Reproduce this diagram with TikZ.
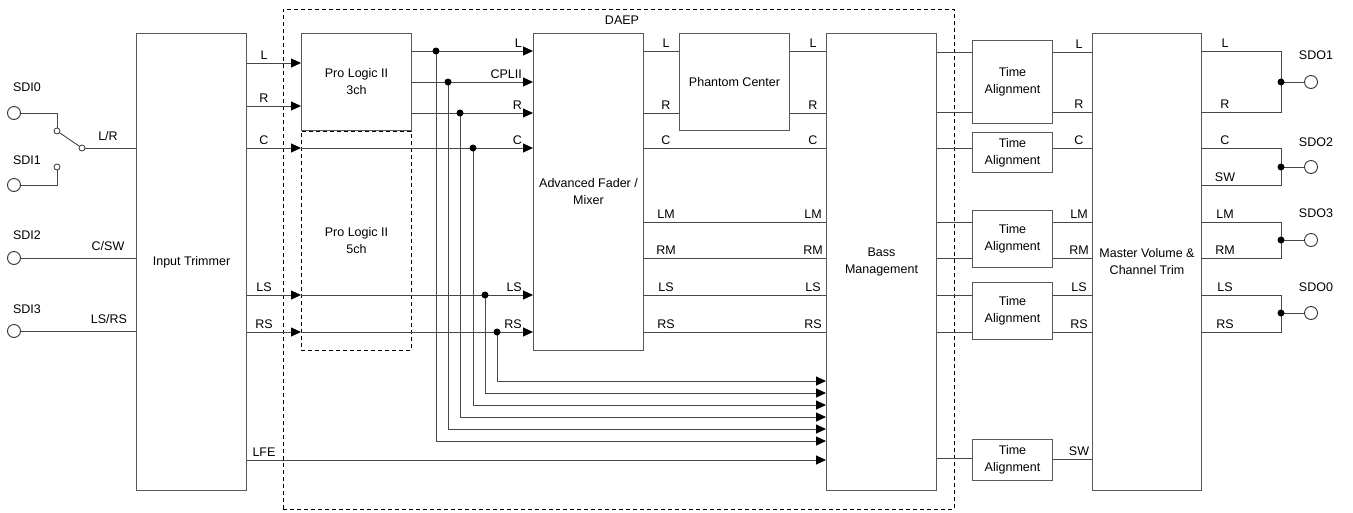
\documentclass[tikz,border=0pt]{standalone}
\usepackage{fontspec}
\setmainfont{Liberation Sans}
\usetikzlibrary{arrows.meta,calc}
\newcommand\dfont{\fontsize{12.5}{17}\selectfont}
\begin{document}
\begin{tikzpicture}[x=1pt,y=-1pt,
  box/.style={draw=black!65, line width=1pt, fill=white, inner sep=2pt, align=center, font=\dfont, anchor=north west},
  dbox/.style={draw=black, line width=0.9pt, dash pattern=on 4pt off 3pt, inner sep=2pt, align=center, font=\dfont, anchor=north west},
  wire/.style={draw=black!72, line width=0.9pt},
  arr/.style={wire, -{Triangle[length=10pt,width=9pt,color=black]}},
  dot/.style={circle, fill=black, inner sep=0pt, minimum size=7pt},
  port/.style={circle, draw=black!80, line width=0.9pt, fill=white, inner sep=0pt, minimum size=13pt},
  swc/.style={circle, draw=black!80, line width=0.8pt, fill=white, inner sep=0pt, minimum size=6pt},
  lab/.style={font=\dfont, inner sep=0pt, anchor=base},
  labr/.style={font=\dfont, inner sep=0pt, anchor=base east}]
\useasboundingbox (0,0) rectangle (1353,512);

% DAEP frame
\node[dbox, minimum width=671pt, minimum height=500pt] (daep) at (283,9) {};
\node[lab] (daeplbl) at (622,24.6) {DAEP};

% blocks
\node[box, minimum width=110pt, minimum height=457pt] (trim) at (136,33) {Input Trimmer};
\node[dbox, minimum width=110pt, minimum height=219pt] (pl5) at (301,131) {Pro Logic II\\5ch};
\node[box, minimum width=110pt, minimum height=97pt] (pl3) at (301,33) {Pro Logic II\\3ch};
\node[box, minimum width=110pt, minimum height=317pt] (fader) at (533,33) {Advanced Fader /\\Mixer};
\node[box, minimum width=110pt, minimum height=97pt] (phantom) at (679,33) {Phantom Center};
\node[box, minimum width=110pt, minimum height=457pt] (bass) at (826,33) {Bass\\Management};
\node[box, minimum width=80pt, minimum height=83pt] (ta1) at (972,40) {Time\\Alignment};
\node[box, minimum width=80pt, minimum height=40pt] (ta2) at (972,132) {Time\\Alignment};
\node[box, minimum width=80pt, minimum height=57pt] (ta3) at (972,210) {Time\\Alignment};
\node[box, minimum width=80pt, minimum height=57pt] (ta4) at (972,282) {Time\\Alignment};
\node[box, minimum width=80pt, minimum height=41pt] (ta5) at (972,439) {Time\\Alignment};
\node[box, minimum width=109pt, minimum height=457pt] (master) at (1092,33) {Master Volume \&\\Channel Trim};

% inputs
\node[port] (sdi0) at (14,113) {};
\node[port] (sdi1) at (14,185) {};
\node[port] (sdi2) at (14,258) {};
\node[port] (sdi3) at (14,331) {};
\node[swc] (s0) at (57,131) {};
\node[swc] (s1) at (57,167) {};
\node[swc] (s2) at (82,148) {};
\node[lab] (sdi0l) at (27,91.6) {SDI0};
\node[lab] (sdi1l) at (27,164.6) {SDI1};
\node[lab] (sdi2l) at (27,239.6) {SDI2};
\node[lab] (sdi3l) at (27,313.6) {SDI3};
\node[lab] (lrl) at (108,140.5) {L/R};
\node[lab] (cswl) at (108,250.5) {C/SW};
\node[lab] (lsrsl) at (109,323.5) {LS/RS};

\draw[wire] (sdi0.east) -| (s0.north);
\draw[wire] (sdi1.east) -| (s1.south);
\draw[wire] (s0) -- (s2);
\draw[wire] (s2.east) -- (trim.west |- s2.east);
\draw[wire] (sdi2.east) -- (trim.west |- sdi2.east);
\draw[wire] (sdi3.east) -- (trim.west |- sdi3.east);

% junction coordinates
\coordinate (d1) at (436,51);
\coordinate (d2) at (448,82);
\coordinate (d3) at (460,113);
\coordinate (d4) at (473,148);
\coordinate (d5) at (485,295);
\coordinate (d6) at (497,332);

% trimmer outputs
\draw[arr] (trim.east |- 0,63) -- (pl3.west |- 0,63);
\draw[arr] (trim.east |- 0,106) -- (pl3.west |- 0,106);
\foreach \y in {148,295,332}{
  \draw[arr] (trim.east |- 0,\y) -- (pl5.west |- 0,\y);
  \draw[arr] (pl5.west |- 0,\y) -- (fader.west |- 0,\y);
}
\draw[arr] (trim.east |- 0,460) -- (bass.west |- 0,460);
\foreach \t/\y [count=\i] in {L/63,R/106,C/148,LS/295,RS/332,LFE/460}
  \node[lab] (tl\i) at (264,\y-3.5) {\t};

% pro logic 3ch outputs
\foreach \y in {51,82,113}
  \draw[arr] (pl3.east |- 0,\y) -- (fader.west |- 0,\y);
\foreach \t/\y [count=\i] in {L/51,CPLII/82,R/113,C/148,LS/295,RS/332}
  \node[labr] (fl\i) at (522,\y-3.5) {\t};

% taps to bass management
\draw[arr] (d1) |- (bass.west |- 0,441);
\draw[arr] (d2) |- (bass.west |- 0,429);
\draw[arr] (d3) |- (bass.west |- 0,417);
\draw[arr] (d4) |- (bass.west |- 0,405);
\draw[arr] (d5) |- (bass.west |- 0,393);
\draw[arr] (d6) |- (bass.west |- 0,381);
\foreach \c [count=\i] in {d1,d2,d3,d4,d5,d6}
  \node[dot] (dn\i) at (\c) {};

% fader outputs
\draw[wire] (fader.east |- 0,51) -- (phantom.west |- 0,51);
\draw[wire] (fader.east |- 0,113) -- (phantom.west |- 0,113);
\draw[wire] (phantom.east |- 0,51) -- (bass.west |- 0,51);
\draw[wire] (phantom.east |- 0,113) -- (bass.west |- 0,113);
\foreach \y in {148,222,258,295,332}
  \draw[wire] (fader.east |- 0,\y) -- (bass.west |- 0,\y);
\foreach \t/\y [count=\i] in {L/51,R/113,C/148,LM/222,RM/258,LS/295,RS/332}{
  \node[lab] (ol\i) at (666,\y-3.5) {\t};
  \node[lab] (bl\i) at (813,\y-3.5) {\t};
}

% bass management to time alignment
\draw[wire] (bass.east |- 0,52) -- (ta1.west |- 0,52);
\draw[wire] (bass.east |- 0,112) -- (ta1.west |- 0,112);
\draw[wire] (bass.east |- 0,148) -- (ta2.west |- 0,148);
\draw[wire] (bass.east |- 0,222) -- (ta3.west |- 0,222);
\draw[wire] (bass.east |- 0,258) -- (ta3.west |- 0,258);
\draw[wire] (bass.east |- 0,295) -- (ta4.west |- 0,295);
\draw[wire] (bass.east |- 0,332) -- (ta4.west |- 0,332);
\draw[wire] (bass.east |- 0,458) -- (ta5.west |- 0,458);

% time alignment to master
\draw[wire] (ta1.east |- 0,52) -- (master.west |- 0,52);
\draw[wire] (ta1.east |- 0,112) -- (master.west |- 0,112);
\draw[wire] (ta2.east |- 0,148) -- (master.west |- 0,148);
\draw[wire] (ta3.east |- 0,222) -- (master.west |- 0,222);
\draw[wire] (ta3.east |- 0,258) -- (master.west |- 0,258);
\draw[wire] (ta4.east |- 0,295) -- (master.west |- 0,295);
\draw[wire] (ta4.east |- 0,332) -- (master.west |- 0,332);
\draw[wire] (ta5.east |- 0,459) -- (master.west |- 0,459);
\foreach \t/\y [count=\i] in {L/52,R/112,C/148,LM/222,RM/258,LS/295,RS/332,SW/459}
  \node[lab] (al\i) at (1079,\y-3.5) {\t};

% master outputs
\coordinate (j1) at (1281,82);
\coordinate (j2) at (1281,167);
\coordinate (j3) at (1281,240);
\coordinate (j4) at (1281,313);
\node[port] (sdo1) at (1311,82) {};
\node[port] (sdo2) at (1311,167) {};
\node[port] (sdo3) at (1311,240) {};
\node[port] (sdo0) at (1311,313) {};
\draw[wire] (master.east |- 0,51) -| (j1) |- (master.east |- 0,112);
\draw[wire] (master.east |- 0,148) -| (j2) |- (master.east |- 0,185);
\draw[wire] (master.east |- 0,222) -| (j3) |- (master.east |- 0,258);
\draw[wire] (master.east |- 0,295) -| (j4) |- (master.east |- 0,332);
\draw[wire] (j1) -- (sdo1.west);
\draw[wire] (j2) -- (sdo2.west);
\draw[wire] (j3) -- (sdo3.west);
\draw[wire] (j4) -- (sdo0.west);
\foreach \c [count=\i] in {j1,j2,j3,j4}
  \node[dot] (jn\i) at (\c) {};
\foreach \t/\y [count=\i] in {L/51,R/112,C/148,SW/185,LM/222,RM/258,LS/295,RS/332}
  \node[lab] (ml\i) at (1225,\y-3.5) {\t};
\node[lab] (sdo1l) at (1316,59.6) {SDO1};
\node[lab] (sdo2l) at (1316,146.6) {SDO2};
\node[lab] (sdo3l) at (1316,217.6) {SDO3};
\node[lab] (sdo0l) at (1316,291.6) {SDO0};
\end{tikzpicture}
\end{document}
